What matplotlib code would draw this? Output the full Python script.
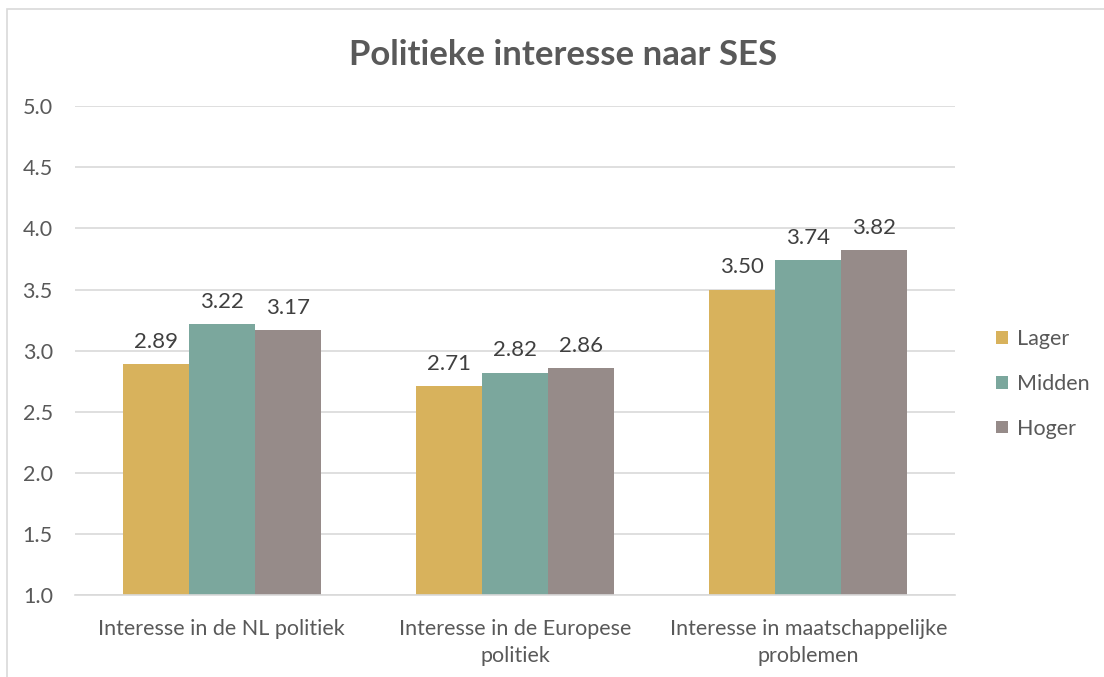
import matplotlib.pyplot as plt
import numpy as np
from matplotlib.patches import Rectangle

categories = ['Interesse in de NL politiek', 'Interesse in de Europese\npolitiek',
              'Interesse in maatschappelijke\nproblemen']
series = ['Lager', 'Midden', 'Hoger']
lager = [2.89, 2.71, 3.50]
midden = [3.22, 2.82, 3.74]
hoger = [3.17, 2.86, 3.82]
colors = ['#D8B25C', '#7BA79D', '#968B89']

plt.rcParams['font.family'] = ['Lato', 'DejaVu Sans']
text_color = '#595959'

fig = plt.figure(figsize=(11.04, 6.77), dpi=100)
ax = fig.add_axes([0.068, 0.121, 0.797, 0.722])

x = np.arange(len(categories))
width = 0.225
for i, (name, vals) in enumerate(zip(series, [lager, midden, hoger])):
    pos = x + (i - 1) * width
    bars = ax.bar(pos, vals, width, bottom=0, color=colors[i], label=name, zorder=2)
    for b, v in zip(bars, vals):
        ax.text(b.get_x() + b.get_width() / 2, v + 0.1, '%.2f' % v,
                ha='center', va='bottom', fontsize=16, color='#404040')

ax.set_ylim(1.0, 5.0)
ax.set_xlim(-0.5, 2.5)
ax.set_yticks(np.arange(1.0, 5.01, 0.5))
ax.set_yticklabels(['%.1f' % t for t in np.arange(1.0, 5.01, 0.5)])
ax.set_xticks(x)
ax.set_xticklabels(categories, linespacing=1.45)
ax.yaxis.grid(True, color='#D9D9D9', linewidth=1.2, zorder=0)
ax.set_axisbelow(True)
for s in ['top', 'right', 'left']:
    ax.spines[s].set_visible(False)
ax.spines['bottom'].set_color('#D9D9D9')
ax.spines['bottom'].set_linewidth(1.2)
ax.tick_params(axis='both', length=0, labelsize=15.5, colors=text_color)
ax.tick_params(axis='y', pad=16)
ax.tick_params(axis='x', pad=17)

fig.text(0.51, 0.919, 'Politieke interesse naar SES', ha='center', va='center',
         fontsize=25, fontweight='bold', color=text_color)

leg = fig.legend(loc='center left', bbox_to_anchor=(0.885, 0.433), frameon=False,
                 fontsize=15.5, handlelength=0.55, handleheight=0.55,
                 labelspacing=1.15, handletextpad=0.4)
for t in leg.get_texts():
    t.set_color(text_color)

fig.patches.append(Rectangle((0.006, -0.05), 1.1, 1.037, transform=fig.transFigure,
                             fill=False, edgecolor='#D9D9D9', linewidth=1.2))

fig.savefig('out.png', dpi=100)
